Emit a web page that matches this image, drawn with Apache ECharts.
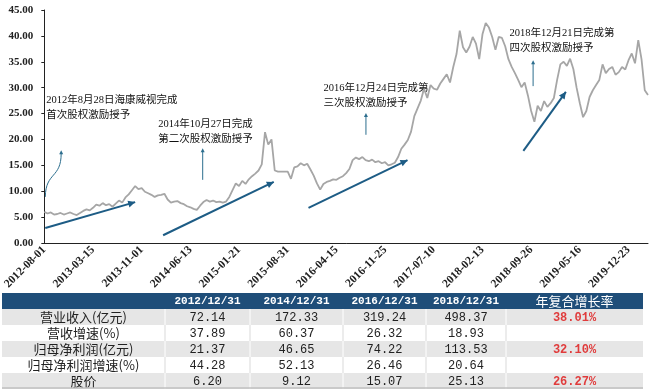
<!DOCTYPE html>
<html><head><meta charset="utf-8">
<script src="https://cdn.jsdelivr.net/npm/echarts@6/dist/echarts.min.js"></script>
<style>html,body{margin:0;padding:0;background:#fff}#c{width:660px;height:389px}</style>
</head><body><div id="c"></div>
<script>
// ---- data ----
const tickLabels = ['2012-08-01','2013-03-15','2013-11-01','2014-06-13','2015-01-21','2015-08-31','2016-04-15','2016-11-25','2017-07-10','2018-02-13','2018-09-26','2019-05-16','2019-12-23'];
const pointsPerTick = 15;
const price = [
6.0,5.7,5.9,5.5,5.6,5.8,5.5,5.7,5.9,5.6,5.4,
5.8,6.2,6.5,6.3,6.8,
7.4,7.2,7.7,7.3,7.5,
7.0,7.6,8.2,7.8,8.8,
9.4,10.2,11.0,10.4,10.6,
9.9,9.6,9.3,8.9,9.2,9.3,9.5,8.4,7.8,8.0,
8.1,7.7,7.5,7.1,6.9,6.6,6.4,7.2,7.9,8.3,
8.0,8.2,7.9,8.0,7.8,8.0,8.9,10.2,11.5,11.0,
12.0,11.4,12.3,12.9,13.4,14.0,15.2,21.4,19.0,20.0,
14.0,13.8,13.8,13.8,13.8,12.4,14.6,14.8,15.4,15.0,
15.3,14.2,13.0,11.5,10.3,11.4,11.8,12.0,12.3,12.2,
12.6,12.9,13.5,14.3,16.0,16.5,16.2,16.6,16.0,15.8,
16.1,15.6,15.8,15.4,15.6,15.0,15.2,15.5,16.6,18.2,
19.0,19.9,21.5,24.5,26.0,27.5,29.8,28.0,30.5,29.8,
29.6,30.8,31.7,32.6,31.0,34.0,36.5,41.0,37.8,36.8,
37.9,39.8,38.5,35.5,40.3,42.5,41.6,39.8,37.3,39.8,
39.6,38.0,35.5,34.0,32.8,31.5,30.1,31.0,28.5,25.5,
23.4,26.5,25.5,27.4,26.3,27.0,28.0,31.5,34.5,35.0,
34.2,35.6,33.6,30.0,27.0,24.3,25.5,28.2,29.5,30.5,
31.5,34.5,32.8,33.6,34.0,32.5,33.0,34.0,33.5,35.3,
36.6,34.7,39.2,35.5,29.5,28.6
];
const yTicks = {min:0, max:45, interval:5};

const tableHeader = ['', '2012/12/31', '2014/12/31', '2016/12/31', '2018/12/31', '年复合增长率'];
const rowLabels = ['营业收入(亿元)', '营收增速(%)', '归母净利润(亿元)', '归母净利润增速(%)', '股价'];
const revenue = ['72.14', '172.33', '319.24', '498.37'];
const revenueGrowth = ['37.89', '60.37', '26.32', '18.93'];
const netProfit = ['21.37', '46.65', '74.22', '113.53'];
const netProfitGrowth = ['44.28', '52.13', '26.46', '20.64'];
const sharePrice = ['6.20', '9.12', '15.07', '25.13'];
const cagr = ['38.01%', '', '32.10%', '', '26.27%'];

// annotations in data space: [category index, value]
const notes = [
  {at:[0.6, 27.6], lines:['2012年8月28日海康威视完成','首次股权激励授予']},
  {at:[35.1, 23.0], lines:['2014年10月27日完成','第二次股权激励授予']},
  {at:[86.0, 29.9], lines:['2016年12月24日完成第','三次股权激励授予']},
  {at:[143.3, 40.6], lines:['2018年12月21日完成第','四次股权激励授予']}
];
const eventArrows = [
  {from:[48.8, 12.2], to:[48.8, 18.3]},
  {from:[99.1, 20.9], to:[99.1, 25.1]},
  {from:[150.6, 30.3], to:[150.6, 35.3]}
];
const curvedArrow = {from:[0.3, 8.9], c1:[0.45, 13.8], c2:[5.2, 12.4], to:[5.2, 17.9]};
const trendArrows = [
  {from:[0.3, 2.9], to:[28.0, 7.9]},
  {from:[36.6, 1.5], to:[70.7, 11.8]},
  {from:[81.4, 6.8], to:[111.9, 16.0]},
  {from:[147.6, 17.8], to:[160.7, 29.2]}
];

(function(){
// ---- chart ----
const categories = price.map((v, i) => i % pointsPerTick === 0 ? tickLabels[i / pointsPerTick] : '#' + i);
const chart = echarts.init(document.getElementById('c'), null, {renderer:'canvas'});
const serif = '"Liberation Serif","Times New Roman",serif';
chart.setOption({
  animation:false,
  backgroundColor:'#fff',
  grid:{left:38, right:12, top:10, bottom:146, containLabel:false},
  xAxis:{type:'category', data:categories, boundaryGap:false,
    axisLine:{lineStyle:{color:'#222', width:1}},
    axisTick:{show:false},
    axisLabel:{interval:(idx)=> idx % pointsPerTick === 0, rotate:45, margin:5,
      fontFamily:serif, fontWeight:'bold', fontSize:11.5, color:'#222'},
    splitLine:{show:false}},
  yAxis:{type:'value', min:yTicks.min, max:yTicks.max, interval:yTicks.interval,
    axisLine:{show:true, lineStyle:{color:'#222', width:1}},
    axisTick:{show:true, length:3, lineStyle:{color:'#222'}},
    axisLabel:{formatter:(v)=>v.toFixed(2), fontFamily:serif, fontWeight:'bold', fontSize:11, color:'#222', margin:11},
    splitLine:{show:false}},
  series:[{type:'line', data:price, symbol:'none', smooth:false,
    lineStyle:{color:'#a6a6a6', width:1.8}}]
});

// ---- annotations + table (graphic) ----
// fractional category positions: interpolate between the axis ends
const first = chart.convertToPixel({xAxisIndex:0, yAxisIndex:0}, [0, 0]);
const last = chart.convertToPixel({xAxisIndex:0, yAxisIndex:0}, [price.length-1, 0]);
const px = (p) => {
  const y = chart.convertToPixel({xAxisIndex:0, yAxisIndex:0}, [0, p[1]])[1];
  return [first[0] + (last[0]-first[0]) * p[0] / (price.length-1), y];
};
const g = [];
const cjk = '"Liberation Serif","Noto Sans CJK SC",serif';
function head(p0, p1, len, wid, color){
  const dx = p1[0]-p0[0], dy = p1[1]-p0[1], L = Math.hypot(dx,dy);
  const ux = dx/L, uy = dy/L;
  const bx = p1[0]-ux*len, by = p1[1]-uy*len;
  return {type:'polygon', shape:{points:[[p1[0],p1[1]],[bx-uy*wid,by+ux*wid],[bx+uy*wid,by-ux*wid]]}, style:{fill:color}};
}
const thin = '#2c6e8e', thick = '#1d5c85';
notes.forEach(n=>{
  const p = px(n.at);
  n.lines.forEach((t,k)=>{
    g.push({type:'text', x:p[0], y:p[1]+k*15, style:{text:t, fill:'#111', font:'10.5px '+cjk, textVerticalAlign:'middle'}});
  });
});
eventArrows.forEach(a=>{
  const p0 = px(a.from), p1 = px(a.to);
  g.push({type:'line', shape:{x1:p0[0],y1:p0[1],x2:p1[0],y2:p1[1]+3}, style:{stroke:thin, lineWidth:1}});
  g.push(head(p0,p1,4,2,thin));
});
{
  const a = px(curvedArrow.from), c1 = px(curvedArrow.c1), c2 = px(curvedArrow.c2), b = px(curvedArrow.to);
  g.push({type:'bezierCurve', shape:{x1:a[0],y1:a[1],cpx1:c1[0],cpy1:c1[1],cpx2:c2[0],cpy2:c2[1],x2:b[0],y2:b[1]+3}, style:{stroke:thin, lineWidth:1, fill:null}});
  g.push(head(c2,b,4,2,thin));
}
trendArrows.forEach(a=>{
  const p0 = px(a.from), p1 = px(a.to);
  g.push({type:'line', shape:{x1:p0[0],y1:p0[1],x2:p1[0],y2:p1[1]}, style:{stroke:thick, lineWidth:2}});
  g.push(head(p0,p1,7,3.5,thick));
});

// table
const colX = [2, 165, 250, 343, 426, 506, 643];
const tableTop = 293, rowH = 16;
const mono = '"Liberation Mono","DejaVu Sans Mono",monospace';
const cjkSans = '"Noto Sans CJK SC",sans-serif';
g.push({type:'rect', shape:{x:colX[0], y:tableTop, width:colX[6]-colX[0], height:rowH}, style:{fill:'#1f4e79'}});
tableHeader.forEach((h,c)=>{
  if(!h) return;
  const cx = (colX[c]+colX[c+1])/2;
  g.push({type:'text', x:cx, y:tableTop+rowH/2+0.5, style:{text:h, fill:'#fff', font:(c===5?'13px '+cjkSans:'bold 11px '+mono), textAlign:'center', textVerticalAlign:'middle'}});
});
const rows = [revenue, revenueGrowth, netProfit, netProfitGrowth, sharePrice];
rows.forEach((vals,r)=>{
  const y = tableTop + rowH*(r+1);
  g.push({type:'rect', shape:{x:colX[0], y:y, width:colX[6]-colX[0], height:rowH}, style:{fill: r%2===0 ? '#e6e6e6' : '#ffffff'}});
  for(let c=1;c<6;c++){
    g.push({type:'line', shape:{x1:colX[c], y1:y, x2:colX[c], y2:y+rowH}, style:{stroke: r%2===0 ? '#ffffff' : '#d9d9d9', lineWidth:1}});
  }
  g.push({type:'text', x:(colX[0]+colX[1])/2, y:y+rowH/2+0.5, style:{text:rowLabels[r], fill:'#222', font:'13px '+cjkSans, textAlign:'center', textVerticalAlign:'middle'}});
  vals.forEach((v,c)=>{
    g.push({type:'text', x:(colX[c+1]+colX[c+2])/2, y:y+rowH/2+0.5, style:{text:v, fill:'#222', font:'12px '+mono, textAlign:'center', textVerticalAlign:'middle'}});
  });
  if(cagr[r]) g.push({type:'text', x:(colX[5]+colX[6])/2, y:y+rowH/2+0.5, style:{text:cagr[r], fill:'#e03c3c', font:'bold 12px '+mono, textAlign:'center', textVerticalAlign:'middle'}});
});
g.push({type:'line', shape:{x1:colX[0], y1:tableTop+rowH*6-1, x2:colX[6], y2:tableTop+rowH*6-1}, style:{stroke:'#bfbfbf', lineWidth:1.5}});
chart.setOption({graphic:g});
})();
</script></body></html>
